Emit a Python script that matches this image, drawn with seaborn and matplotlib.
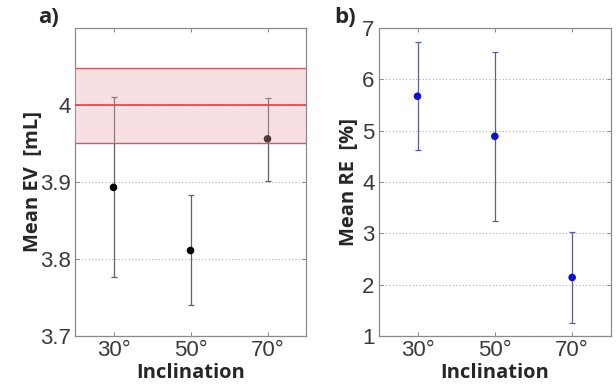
import numpy as np
import pandas as pd
import matplotlib
matplotlib.use("Agg")
import matplotlib.pyplot as plt
import seaborn as sns

# ---- data ----
inclination = [30, 50, 70]
tick_labels = ["30°", "50°", "70°"]
ev_mean = [3.893, 3.811, 3.956]
ev_low = [3.776, 3.740, 3.901]
ev_high = [4.010, 3.883, 4.009]
ev_ref = 4.0
ev_band = [3.951, 4.048]
re_mean = [5.67, 4.89, 2.14]
re_low = [4.62, 3.24, 1.26]
re_high = [6.72, 6.53, 3.03]

sns.set_style("white")
plt.rcParams['font.family'] = ['Liberation Sans', 'DejaVu Sans']

fig = plt.figure(figsize=(6.16, 3.85), dpi=100)
axA = fig.add_axes([0.1218, 0.1273, 0.375, 0.80])
axB = fig.add_axes([0.615, 0.1273, 0.3766, 0.80])

lab_font = dict(family=['Open Sans', 'DejaVu Sans'], fontweight='bold', fontsize=14.5)

def style(ax, yticks, ylim):
    ax.set_xlim(20, 80)
    ax.set_ylim(*ylim)
    ax.set_xticks(inclination)
    ax.set_xticklabels(tick_labels)
    ax.set_yticks(yticks)
    ax.tick_params(direction='in', length=3, width=0.6, color='#777777',
                   labelsize=16, labelcolor='#3a3a3a', top=True, right=True,
                   bottom=True, left=True, pad=3)
    for s in ax.spines.values():
        s.set_color('#8a8a8a')
        s.set_linewidth(0.9)
    for y in yticks:
        ax.axhline(y, color='#b0b0b0', lw=0.8, ls=(0, (1, 2)), zorder=0)

# ---- panel a ----
style(axA, [3.7, 3.8, 3.9, 4.0], (3.7, 4.1))
axA.set_yticklabels(["3.7", "3.8", "3.9", "4"])
ev_err = [np.array(ev_mean) - np.array(ev_low), np.array(ev_high) - np.array(ev_mean)]
axA.errorbar(inclination, ev_mean, yerr=ev_err, fmt='none', ecolor='#606060',
             elinewidth=0.9, capsize=2.5, capthick=0.9, zorder=2)
dfA = pd.DataFrame({"x": inclination, "y": ev_mean})
sns.scatterplot(data=dfA, x="x", y="y", ax=axA, color='black', s=30,
                edgecolor='none', zorder=3)
axA.axhspan(ev_band[0], ev_band[1], color='#e9a6ac', alpha=0.35, zorder=4, lw=0)
axA.axhline(ev_band[0], color='#d25a62', lw=1.0, zorder=5)
axA.axhline(ev_band[1], color='#d25a62', lw=1.0, zorder=5)
axA.axhline(ev_ref, color='#e0404a', lw=1.2, zorder=5)
axA.set_xlabel("Inclination", labelpad=1, **lab_font)
axA.set_ylabel("Mean EV  [mL]", labelpad=-2, **lab_font)

# ---- panel b ----
style(axB, [1, 2, 3, 4, 5, 6, 7], (1, 7))
re_err = [np.array(re_mean) - np.array(re_low), np.array(re_high) - np.array(re_mean)]
axB.errorbar(inclination, re_mean, yerr=re_err, fmt='none', ecolor='#5c5c9c',
             elinewidth=0.9, capsize=2.5, capthick=0.9, zorder=3)
dfB = pd.DataFrame({"x": inclination, "y": re_mean})
sns.scatterplot(data=dfB, x="x", y="y", ax=axB, color='#1010cc', s=30,
                edgecolor='none', zorder=4)
axB.set_xlabel("Inclination", labelpad=1, **lab_font)
axB.set_ylabel("Mean RE  [%]", labelpad=2, **lab_font)

fig.text(0.062, 0.955, "a)", fontsize=16, fontweight='bold',
         family=['Open Sans', 'DejaVu Sans'], ha='left', va='center')
fig.text(0.542, 0.955, "b)", fontsize=16, fontweight='bold',
         family=['Open Sans', 'DejaVu Sans'], ha='left', va='center')

fig.savefig("out.png", dpi=100)
